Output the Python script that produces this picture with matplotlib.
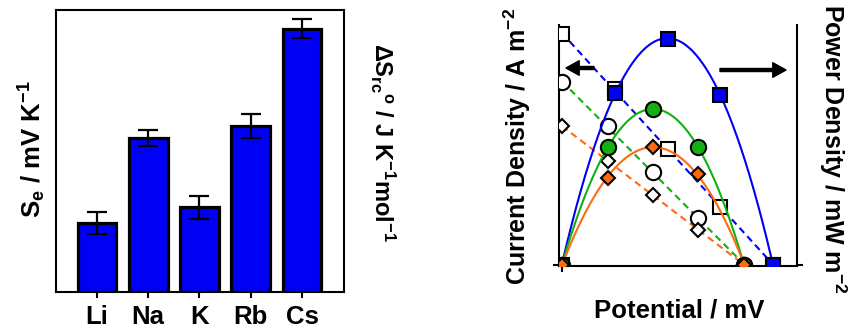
import numpy as np
import matplotlib
matplotlib.use("Agg")
import matplotlib.pyplot as plt

plt.rcParams['font.family'] = ['Liberation Sans', 'DejaVu Sans']
plt.rcParams['font.weight'] = 'bold'
plt.rcParams['mathtext.fontset'] = 'custom'
plt.rcParams['mathtext.rm'] = 'Liberation Sans:bold'
plt.rcParams['mathtext.it'] = 'Liberation Sans:bold'
plt.rcParams['mathtext.bf'] = 'Liberation Sans:bold'
plt.rcParams['mathtext.sf'] = 'Liberation Sans:bold'

# Seebeck coefficient per alkali cation (relative units)
cations = ['Li', 'Na', 'K', 'Rb', 'Cs']
seebeck = [0.245, 0.546, 0.301, 0.589, 0.933]
seebeck_err = [0.039, 0.030, 0.041, 0.043, 0.034]

# Current density (open markers) and power density (filled markers) vs potential
v_blue = [0, 10, 20, 30, 40]
j_blue = [10.0, 7.6, 5.0, 2.5, 0.0]
p_blue = [0, 76, 100, 75, 0]

v_green = [0, 8.7, 17.2, 25.8, 34.5]
j_green = [7.9, 6.0, 4.0, 2.0, 0.0]
p_green = [0, 52, 69, 52, 0]

v_orange = [0, 8.7, 17.2, 25.8, 34.5]
j_orange = [6.0, 4.5, 3.0, 1.5, 0.0]
p_orange = [0, 38.5, 52, 40, 0]

BLUE = '#0000F5'
GREEN = '#12B012'
ORANGE = '#FF6A10'
FS = 18.5

W, H = 854, 329
fig = plt.figure(figsize=(W / 100, H / 100), dpi=100)


def box(l, t, r, b):
    return [l / W, 1 - b / H, (r - l) / W, (b - t) / H]


# ---------------- bar chart ----------------
axb = fig.add_axes(box(56, 10, 344, 292))
x = np.arange(len(cations))
axb.bar(x, seebeck, width=0.76, color=BLUE, edgecolor='black', linewidth=2.3, zorder=2)
axb.errorbar(x, seebeck, yerr=seebeck_err, fmt='none', ecolor='black',
             elinewidth=1.6, capsize=7.5, capthick=1.6, zorder=3)
axb.set_xlim(-0.8, 4.82)
axb.set_ylim(0, 1)
axb.set_xticks(x)
axb.set_xticklabels(cations, fontsize=FS, fontweight='bold')
axb.tick_params(axis='x', length=4, width=1.5, pad=5)
axb.set_yticks([])
for s in axb.spines.values():
    s.set_linewidth(1.5)

fig.text(32 / W, 1 - 149 / H, r'S$_\mathrm{e}$ / mV K$^{-1}$', rotation=90,
         ha='center', va='center', fontsize=FS, fontweight='bold')
fig.text(383 / W, 1 - 142 / H, r'$\Delta$S$_\mathrm{rc}$$^\mathrm{o}$ / J K$^{-1}$mol$^{-1}$',
         rotation=270, ha='center', va='center', fontsize=17, fontweight='bold')

# ---------------- current / power panel ----------------
ax = fig.add_axes(box(559, 25, 797, 266))
ax2 = ax.twinx()
ax.set_xlim(-0.57, 44.55)
ax.set_ylim(-0.065, 10.39)
ax2.set_ylim(-0.66, 106.2)

for a in (ax, ax2):
    a.spines['top'].set_visible(False)
ax.spines['right'].set_visible(False)
ax2.spines['left'].set_visible(False)
ax2.spines['bottom'].set_visible(False)
for s in ('left', 'bottom'):
    ax.spines[s].set_linewidth(1.5)
ax2.spines['right'].set_linewidth(1.5)

ax.set_xticks([0])
ax.set_yticks([0])
ax2.set_yticks([0])
ax.set_xticklabels([])
ax.set_yticklabels([])
ax2.set_yticklabels([])
ax.tick_params(length=4.5, width=1.5)
ax2.tick_params(length=4.5, width=1.5)

series = [
    (v_blue, j_blue, p_blue, BLUE, 's', 10.5),
    (v_green, j_green, p_green, GREEN, 'o', 11),
    (v_orange, j_orange, p_orange, ORANGE, 'D', 7.5),
]

# linear I-V fits (dashed) with open markers
for v, j, p, c, m, ms in series:
    k = np.polyfit(v, j, 1)
    vv = np.array([v[0], v[-1]])
    ax.plot(vv, np.polyval(k, vv), ls=(0, (3.3, 2.2)), color=c, lw=1.5, zorder=1)
for v, j, p, c, m, ms in series:
    ax.plot(v, j, ls='none', marker=m, ms=ms, mfc='white', mec='black', mew=1.5, zorder=3)

# quadratic power fits (solid) with filled markers
for v, j, p, c, m, ms in series:
    k = np.polyfit(v, p, 2)
    vv = np.linspace(v[0], v[-1], 200)
    ax2.plot(vv, np.polyval(k, vv), '-', color=c, lw=1.5, zorder=1)
for v, j, p, c, m, ms in series:
    ax2.plot(v, p, ls='none', marker=m, ms=ms, mfc=c, mec='black', mew=1.5, zorder=3)

# axis direction arrows
ax.annotate('', xy=(566, H - 68), xytext=(594, H - 68), xycoords='figure pixels',
            textcoords='figure pixels',
            arrowprops=dict(width=2.2, headwidth=10.5, headlength=9.5, shrink=0, color='black'))
ax.annotate('', xy=(786, H - 70), xytext=(720, H - 70), xycoords='figure pixels',
            textcoords='figure pixels',
            arrowprops=dict(width=2.2, headwidth=10.5, headlength=9.5, shrink=0, color='black'))

fig.text(517 / W, 1 - 146 / H, r'Current Density / A m$^{-2}$', rotation=90,
         ha='center', va='center', fontsize=18, fontweight='bold')
fig.text(833 / W, 1 - 149 / H, r'Power Density / mW m$^{-2}$', rotation=270,
         ha='center', va='center', fontsize=18, fontweight='bold')
fig.text(679 / W, 1 - 318 / H, 'Potential / mV', ha='center', va='baseline',
         fontsize=FS, fontweight='bold')

fig.savefig('out.png', dpi=100)
